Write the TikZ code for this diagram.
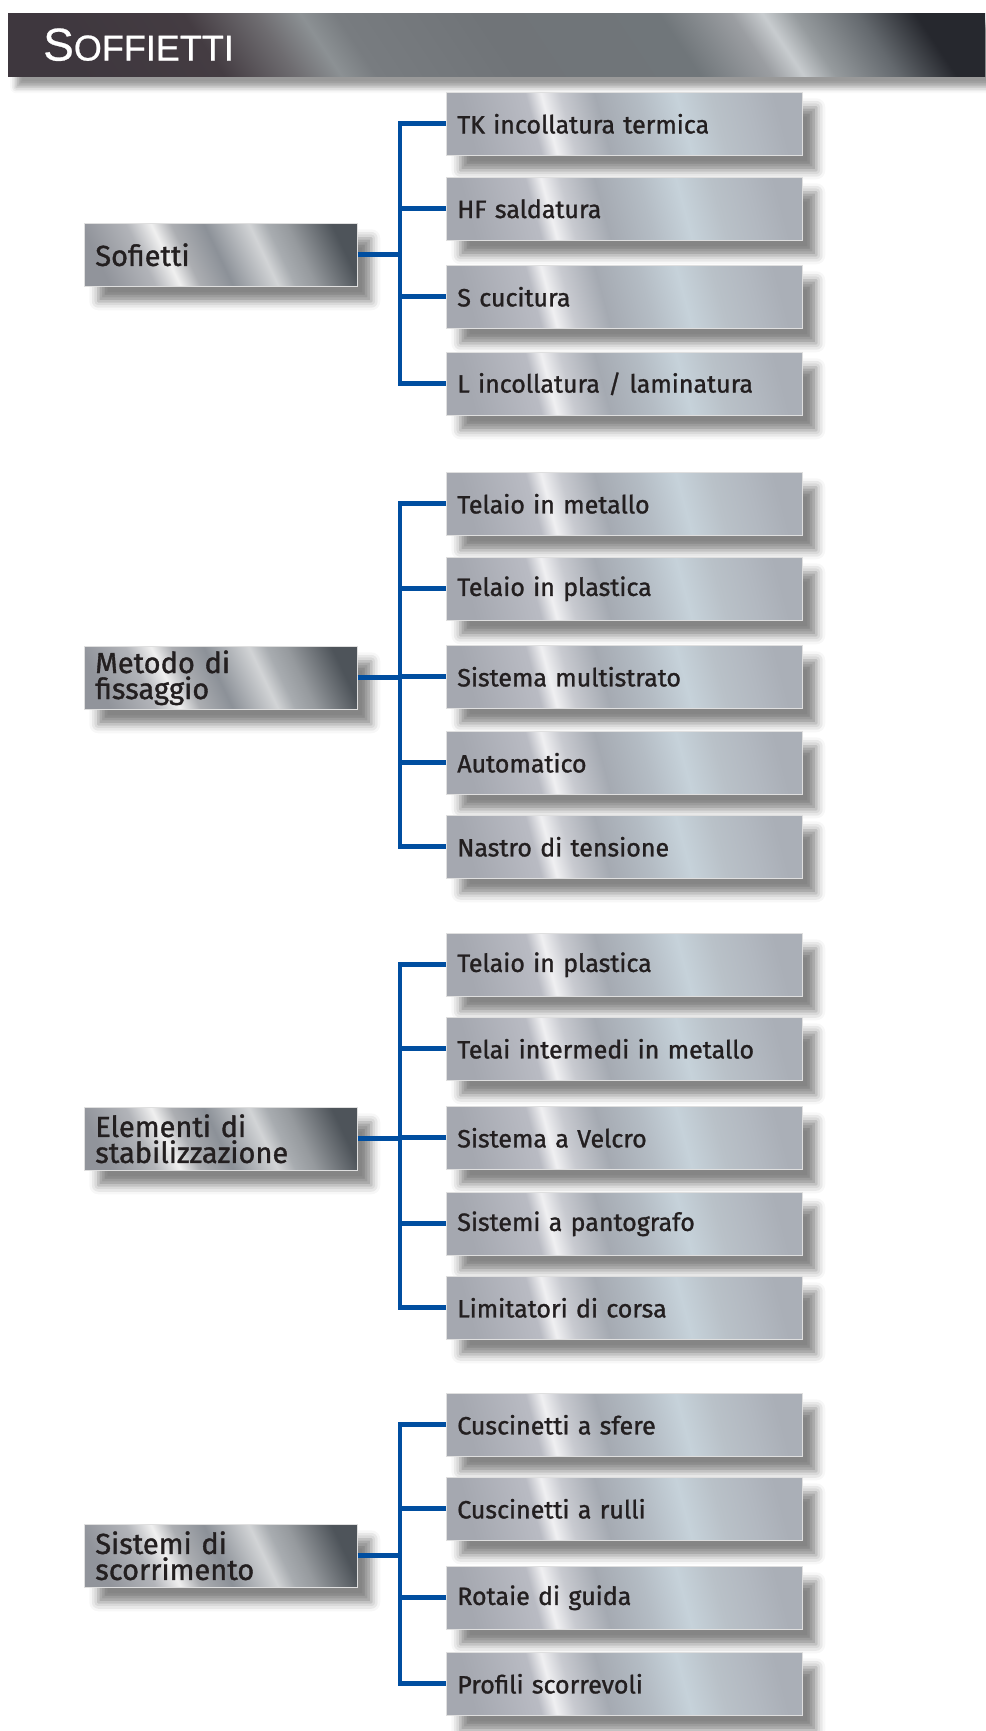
\documentclass[tikz,border=0pt]{standalone}
\usepackage{fontspec}
\setmainfont{Fira Sans}[FakeBold=1.2]
\newfontfamily\titlefont{Liberation Sans}[FakeBold=0.6]
\usetikzlibrary{shadows.blur}

\definecolor{txt}{RGB}{35,31,32}
\definecolor{lineblue}{RGB}{0,78,160}
% right box colours
\definecolor{ra}{RGB}{165,168,176}
\definecolor{rb}{RGB}{185,187,195}
\definecolor{rc}{RGB}{240,240,242}
\definecolor{rd}{RGB}{200,202,208}
\definecolor{re}{RGB}{165,170,178}
\definecolor{rf}{RGB}{180,188,196}
\definecolor{rg}{RGB}{198,210,218}
\definecolor{rh}{RGB}{185,193,200}
\definecolor{ri}{RGB}{178,184,192}
\definecolor{rj}{RGB}{170,175,183}
% left box colours
\definecolor{la}{RGB}{145,148,155}
\definecolor{lb}{RGB}{178,180,185}
\definecolor{lc}{RGB}{240,240,240}
\definecolor{ld}{RGB}{172,174,178}
\definecolor{le}{RGB}{140,145,152}
\definecolor{lf}{RGB}{210,212,214}
\definecolor{lg}{RGB}{168,172,176}
\definecolor{lh}{RGB}{150,154,158}
\definecolor{li}{RGB}{110,115,120}
\definecolor{lj}{RGB}{78,84,90}
% header colours
\definecolor{ha}{RGB}{62,55,62}
\definecolor{hb}{RGB}{68,60,66}
\definecolor{hc}{RGB}{110,108,112}
\definecolor{hd}{RGB}{140,145,148}
\definecolor{he}{RGB}{120,124,128}
\definecolor{hf}{RGB}{112,116,120}
\definecolor{hg}{RGB}{112,118,122}
\definecolor{hh}{RGB}{155,158,162}
\definecolor{hi}{RGB}{200,204,207}
\definecolor{hj}{RGB}{150,155,158}
\definecolor{hk}{RGB}{100,105,110}
\definecolor{hl}{RGB}{38,40,46}

\pgfdeclarehorizontalshading{rshade}{100bp}{color(0bp)=(ra); color(24.12bp)=(ra); color(34.99bp)=(rb); color(37.58bp)=(rc); color(40.68bp)=(rd); color(46.38bp)=(re); color(53.62bp)=(rf); color(59.83bp)=(rg); color(65.53bp)=(rh); color(71.22bp)=(ri); color(75.88bp)=(rj); color(100bp)=(rj)}
\pgfdeclarehorizontalshading{lshade}{100bp}{color(0bp)=(la); color(22.31bp)=(la); color(32.28bp)=(lb); color(37.82bp)=(lc); color(42.25bp)=(ld); color(49.45bp)=(le); color(59.41bp)=(lf); color(63.29bp)=(lg); color(67.72bp)=(lh); color(73.26bp)=(li); color(77.69bp)=(lj); color(100bp)=(lj)}
\pgfdeclarehorizontalshading{hshade}{100bp}{color(0bp)=(ha); color(19.95bp)=(ha); color(29.93bp)=(hb); color(34.86bp)=(hc); color(37.98bp)=(hd); color(40.38bp)=(he); color(50.24bp)=(hf); color(62.5bp)=(hg); color(67.43bp)=(hh); color(69.59bp)=(hi); color(71.75bp)=(hj); color(76.08bp)=(hk); color(80.05bp)=(hl); color(100bp)=(hl)}

\tikzset{
  boxshadow/.style={blur shadow={shadow xshift=14pt, shadow yshift=-15pt, shadow blur radius=9pt, shadow opacity=48}},
  leftbox/.style={anchor=north west, minimum width=273pt, minimum height=63pt,
    text width=251pt, inner xsep=11pt, inner ysep=0pt, align=left,
    shade, shading=lshade, shading angle=25.5, draw=gray!25, line width=0.6pt,
    boxshadow, text=txt, font=\fontsize{29}{26}\selectfont},
  rightbox/.style={anchor=north west, minimum width=356pt, minimum height=63pt,
    text width=334pt, inner xsep=11pt, inner ysep=0pt, align=left,
    shade, shading=rshade, shading angle=15, draw=gray!25, line width=0.6pt,
    boxshadow, text=txt, font=\fontsize{25}{28}\selectfont},
  conn/.style={draw=lineblue, line width=4.8pt, line join=miter}
}

\begin{document}
\begin{tikzpicture}[x=1pt,y=-1pt]
\useasboundingbox (0,0) rectangle (985,1731);

% header
\node[anchor=north west, minimum width=977pt, minimum height=63pt, inner xsep=35pt,
  text width=907pt, align=left, shade, shading=hshade, shading angle=33.7,
  blur shadow={shadow xshift=8pt, shadow yshift=-11pt, shadow blur radius=6pt, shadow opacity=40},
  text=white, font=\titlefont] (title) at (8,13)
  {{\fontsize{46}{46}\selectfont S}{\fontsize{36}{36}\selectfont OFFIETTI}};

% bus coordinates
\coordinate (bus) at (400,0);

% group 1
\node[leftbox] (p1) at (84,223) {Sofietti};
\node[rightbox] (a1) at (446,92) {TK incollatura termica};
\node[rightbox] (a2) at (446,177) {HF saldatura};
\node[rightbox] (a3) at (446,265) {S cucitura};
\node[rightbox] (a4) at (446,352) {L incollatura / laminatura};

% group 2
\node[leftbox] (p2) at (84,646) {Metodo di\\fissaggio};
\node[rightbox] (b1) at (446,472) {Telaio in metallo};
\node[rightbox] (b2) at (446,557) {Telaio in plastica};
\node[rightbox] (b3) at (446,645) {Sistema multistrato};
\node[rightbox] (b4) at (446,731) {Automatico};
\node[rightbox] (b5) at (446,815) {Nastro di tensione};

% group 3
\node[leftbox] (p3) at (84,1107) {Elementi di\\stabilizzazione};
\node[rightbox] (c1) at (446,933) {Telaio in plastica};
\node[rightbox] (c2) at (446,1017) {Telai intermedi in metallo};
\node[rightbox] (c3) at (446,1106) {Sistema a Velcro};
\node[rightbox] (c4) at (446,1192) {Sistemi a pantografo};
\node[rightbox] (c5) at (446,1276) {Limitatori di corsa};

% group 4
\node[leftbox] (p4) at (84,1524) {Sistemi di\\scorrimento};
\node[rightbox] (d1) at (446,1393) {Cuscinetti a sfere};
\node[rightbox] (d2) at (446,1477) {Cuscinetti a rulli};
\node[rightbox] (d3) at (446,1566) {Rotaie di guida};
\node[rightbox] (d4) at (446,1652) {Profili scorrevoli};

% connectors group 1
\draw[conn] (a1.west) -- (a1.west -| bus) -- (a4.west -| bus) -- (a4.west);
\draw[conn] (a2.west) -- (a2.west -| bus);
\draw[conn] (a3.west) -- (a3.west -| bus);
\draw[conn] (p1.east) -- (p1.east -| bus);

% connectors group 2
\draw[conn] (b1.west) -- (b1.west -| bus) -- (b5.west -| bus) -- (b5.west);
\draw[conn] (b2.west) -- (b2.west -| bus);
\draw[conn] (b3.west) -- (b3.west -| bus);
\draw[conn] (b4.west) -- (b4.west -| bus);
\draw[conn] (p2.east) -- (p2.east -| bus);

% connectors group 3
\draw[conn] (c1.west) -- (c1.west -| bus) -- (c5.west -| bus) -- (c5.west);
\draw[conn] (c2.west) -- (c2.west -| bus);
\draw[conn] (c3.west) -- (c3.west -| bus);
\draw[conn] (c4.west) -- (c4.west -| bus);
\draw[conn] (p3.east) -- (p3.east -| bus);

% connectors group 4
\draw[conn] (d1.west) -- (d1.west -| bus) -- (d4.west -| bus) -- (d4.west);
\draw[conn] (d2.west) -- (d2.west -| bus);
\draw[conn] (d3.west) -- (d3.west -| bus);
\draw[conn] (p4.east) -- (p4.east -| bus);
\end{tikzpicture}
\end{document}
